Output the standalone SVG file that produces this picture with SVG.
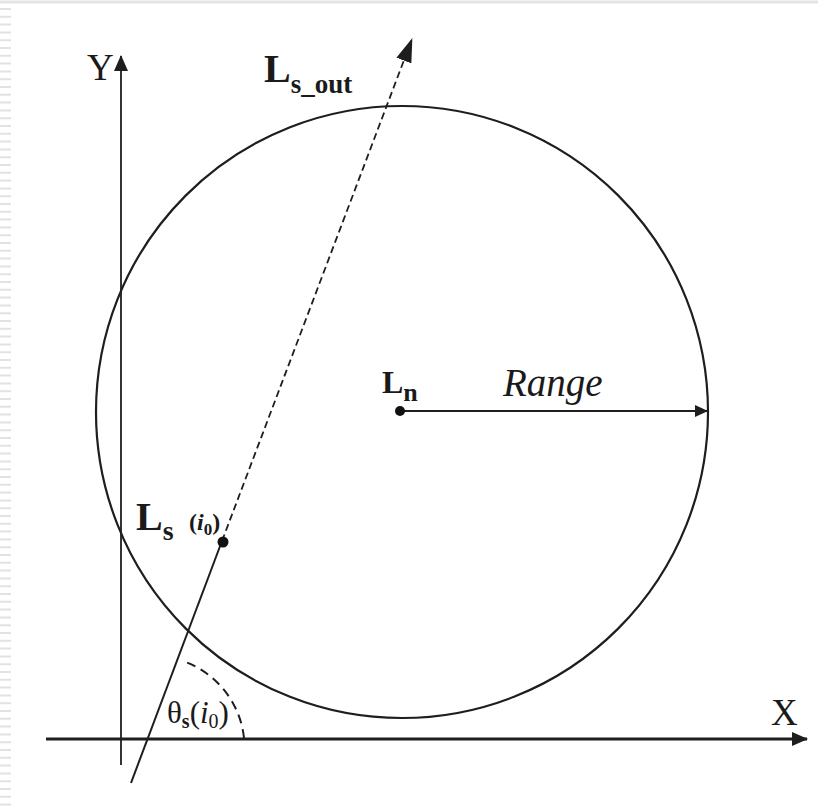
<svg xmlns="http://www.w3.org/2000/svg" width="818" height="808" viewBox="0 0 818 808">
<style>
.ln{stroke:#1e1e1e;fill:none}
.t{font-family:"Liberation Serif","Times New Roman",serif;fill:#1a1a1a}
.b{font-weight:bold}
.i{font-style:italic}
</style>
<defs>
<marker id="ah" viewBox="0 0 16 14" refX="15" refY="7" markerWidth="16" markerHeight="14" markerUnits="userSpaceOnUse" orient="auto">
<path d="M0,0 L16,7 L0,14 z" fill="#1e1e1e"/>
</marker>
<marker id="ahs" viewBox="0 0 13 12" refX="12" refY="6" markerWidth="13" markerHeight="12" markerUnits="userSpaceOnUse" orient="auto">
<path d="M0,0 L13,6 L0,12 z" fill="#1e1e1e"/>
</marker>
<marker id="ahl" viewBox="0 0 24 16" refX="23" refY="8" markerWidth="24" markerHeight="16" markerUnits="userSpaceOnUse" orient="auto">
<path d="M0,0 L24,8 L0,16 z" fill="#1e1e1e"/>
</marker>
</defs>
<rect width="818" height="808" fill="#fff"/>
<g id="frame">
<line x1="0" y1="2" x2="818" y2="2" stroke="#e4e4e4" stroke-width="3"/>
<line x1="5.5" y1="8" x2="5.5" y2="808" stroke="#e2e2e2" stroke-width="11" stroke-dasharray="2 5.8"/>
</g>
<g id="circle">
<circle class="ln" cx="402" cy="412" r="306" stroke-width="2.2"/>
</g>
<g id="connectors">
<line id="y-axis" class="ln" x1="121" y1="765" x2="121" y2="56" stroke-width="1.8" marker-end="url(#ah)"/>
<line id="x-axis" class="ln" x1="46" y1="739" x2="807" y2="739" stroke-width="3" marker-end="url(#ah)"/>
<line id="range" class="ln" x1="400" y1="411" x2="707" y2="411" stroke-width="2" marker-end="url(#ahs)"/>
<line id="ls-solid" class="ln" x1="222" y1="541" x2="131" y2="783" stroke-width="2"/>
<line id="ls-dashed" class="ln" x1="222" y1="541" x2="412" y2="39" stroke-width="1.8" stroke-dasharray="7 4" marker-end="url(#ahl)"/>
<path id="theta-arc" class="ln" d="M244,738 A92,92 0 0 0 183,661" stroke-width="2" stroke-dasharray="9 6"/>
</g>
<g id="node-ln">
<circle cx="400" cy="411" r="5" fill="#111"/>
<text class="t b" x="382" y="393" font-size="32">L<tspan font-size="26" dy="8">n</tspan></text>
</g>
<g id="node-ls">
<circle cx="223" cy="542" r="5.5" fill="#111"/>
<text class="t b" x="136" y="530" font-size="40">L<tspan font-size="28" dy="10">s</tspan></text>
<text class="t b" x="189" y="530" font-size="24">(<tspan class="i">i</tspan><tspan font-size="17" dy="5">0</tspan><tspan dy="-5">)</tspan></text>
</g>
<g id="labels">
<text class="t" x="87" y="80" font-size="37">Y</text>
<text class="t" x="771" y="725" font-size="37">X</text>
<text class="t b" x="264" y="82" font-size="40">L<tspan font-size="27" dy="11">s_out</tspan></text>
<text class="t i" x="503" y="396" font-size="39">Range</text>
<text class="t" x="167" y="723" font-size="31">θ<tspan class="b" font-size="20" dy="5">s</tspan><tspan dy="-5">(</tspan><tspan class="i">i</tspan><tspan font-size="20" dy="5">0</tspan><tspan dy="-5">)</tspan></text>
</g>
</svg>
